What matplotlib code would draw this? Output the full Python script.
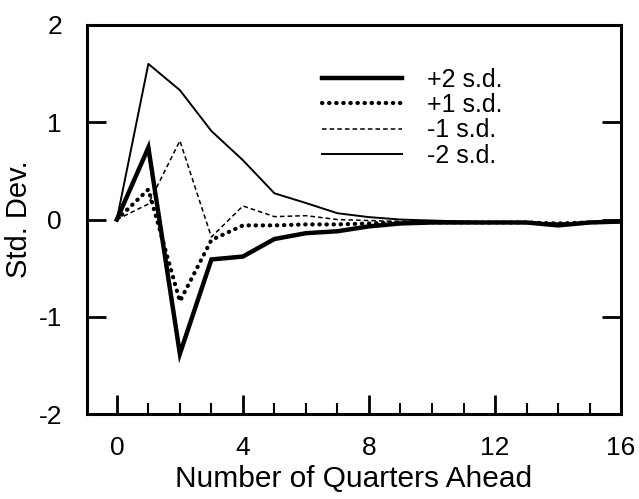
import matplotlib
matplotlib.use("Agg")
import matplotlib.pyplot as plt

plt.rcParams['font.family'] = ['Liberation Sans', 'DejaVu Sans']
plt.rcParams['axes.unicode_minus'] = False

quarters = list(range(17))
plus2 = [0, 0.74, -1.38, -0.41, -0.38, -0.20, -0.14, -0.12, -0.07, -0.04, -0.03, -0.03, -0.03, -0.03, -0.06, -0.03, -0.02]
plus1 = [0, 0.31, -0.84, -0.21, -0.06, -0.06, -0.05, -0.05, -0.04, -0.03, -0.03, -0.03, -0.03, -0.03, -0.04, -0.03, -0.02]
minus1 = [0, 0.16, 0.81, -0.18, 0.14, 0.03, 0.04, 0.00, -0.01, -0.02, -0.02, -0.03, -0.03, -0.03, -0.04, -0.03, -0.02]
minus2 = [0, 1.60, 1.33, 0.91, 0.61, 0.27, 0.17, 0.065, 0.025, 0.0, -0.01, -0.02, -0.03, -0.03, -0.04, -0.03, -0.02]
labels = ['+2 s.d.', '+1 s.d.', '-1 s.d.', '-2 s.d.']
xticks = [0, 4, 8, 12, 16]
yticks = [-2, -1, 0, 1, 2]

fig = plt.figure(figsize=(6.39, 4.99), dpi=100)
ax = fig.add_axes([0.136, 0.170, 0.836, 0.780])

ax.plot(quarters, plus2, color='black', lw=3.2, solid_joinstyle='miter', label=labels[0])
ax.plot(quarters, plus1, color='black', lw=3.0, linestyle=(0, (0.1, 1.6)),
        dash_capstyle='round', label=labels[1])
ax.plot(quarters, minus1, color='black', lw=1.1, linestyle=(0, (3, 2)), label=labels[2])
ax.plot(quarters, minus2, color='black', lw=1.4, label=labels[3])

ax.set_xlim(-0.95, 16)
ax.set_ylim(-2, 2)
ax.set_xticks(xticks)
ax.set_xticks(range(17), minor=True)
ax.set_yticks(yticks)

for s in ax.spines.values():
    s.set_linewidth(2.2)

ax.tick_params(axis='x', which='major', direction='in', length=14, width=2.0,
               labelsize=19, pad=16, top=False)
ax.tick_params(axis='x', which='minor', direction='in', length=8, width=1.5, top=False)
ax.tick_params(axis='y', which='major', direction='in', length=14, width=2.0,
               labelsize=19, pad=18, right=True)

ax.set_xlabel('Number of Quarters Ahead', fontsize=21.5, labelpad=3)
ax.set_ylabel('Std. Dev.', fontsize=21)
ax.yaxis.set_label_coords(-0.10, 0.5)

leg = ax.legend(loc='upper left', bbox_to_anchor=(0.44, 0.89), frameon=False,
                fontsize=18, handlelength=3.2, handletextpad=1.0,
                labelspacing=0.05, borderpad=0, borderaxespad=0)

fig.savefig('out.png', dpi=100)
